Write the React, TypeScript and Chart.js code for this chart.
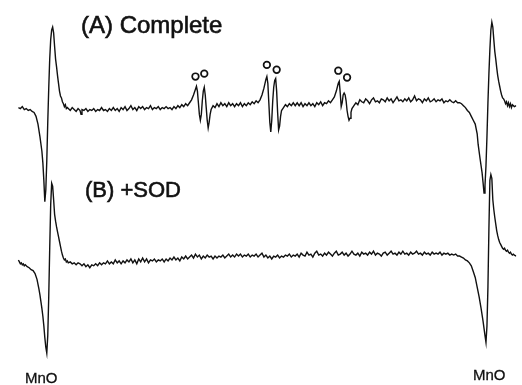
import React, { useEffect, useRef } from "react";
import { Chart, registerables } from "chart.js";

Chart.register(...registerables);

// EPR spectra: [field (a.u.), intensity (a.u.)]
const traceA: [number, number][] = [
  [13,0],[15,-1],[17,1],[19,-2],[21,-1],[23,-3],[25,-2],[27,-4],[29,-5],[31,-9],[33,-17],[35,-30],[37,-45],[38,-57],[39,-75],[40,-97],[41,-85],[42,-55],[43,-15],[44,20],[45,50],[46,70],[47,80],[48,83],[49,77],[50,63],[51,50],[52,42],[53,33],[54,25],[55,17],[56,12],[57,10],[58,6],[59,4],[60,1],[61,3],[62,-1],[63,0],[64,-1],[66,-3],[68,0],[70,-2],[72,-4],[74,-1],[76,-3],[77,-7],[78,-2],[80,-3],[82,-1],[84,-4],[86,-2],[88,-3],[90,-1],[92,-4],[94,-2],[96,-3],[98,0],[100,-3],[102,-2],[104,-4],[106,-1],[108,-3],[110,0],[112,-3],[114,-1],[116,-4],[118,0],[120,-2],[122,1],[124,-3],[126,-1],[128,2],[130,-2],[132,0],[134,-3],[136,1],[138,-1],[140,1],[142,-2],[144,0],[146,-1],[148,2],[150,-2],[152,0],[154,-1],[156,1],[158,-2],[160,0],[162,-1],[164,1],[166,-1],[168,0],[170,-2],[172,1],[174,-1],[176,2],[178,0],[180,3],[182,1],[184,4],[186,2],[188,5],[190,8],[192,13],[194,19],[195,22],[196,17],[197,5],[198,-7],[199,-13],[200,-7],[201,7],[202,17],[203,21],[204,13],[205,0],[206,-13],[207,-21],[208,-15],[209,-7],[210,-2],[212,2],[214,0],[216,4],[218,1],[220,5],[222,2],[224,4],[226,1],[228,5],[230,2],[232,4],[234,1],[236,4],[238,2],[240,5],[242,1],[244,4],[246,2],[248,5],[250,3],[252,6],[254,4],[256,7],[258,5],[260,8],[262,13],[264,20],[266,29],[267,32],[268,25],[269,5],[270,-15],[271,-25],[272,-13],[273,7],[274,21],[275,28],[276,30],[277,17],[278,-5],[279,-23],[280,-19],[281,-9],[282,-3],[284,0],[286,3],[288,1],[290,4],[292,2],[294,5],[296,2],[298,5],[300,2],[302,5],[304,1],[306,4],[308,2],[310,5],[312,2],[314,4],[316,1],[318,5],[320,3],[322,6],[324,2],[326,5],[328,4],[330,7],[332,5],[334,8],[336,11],[338,17],[340,25],[341,27],[342,15],[343,1],[344,5],[345,13],[346,15],[347,13],[348,7],[349,-3],[350,-9],[351,-13],[352,-11],[353,-5],[354,-1],[356,2],[358,5],[360,3],[362,8],[364,6],[366,5],[368,9],[370,7],[372,4],[374,8],[376,10],[378,6],[380,7],[382,5],[384,9],[386,8],[388,6],[390,10],[392,7],[394,9],[396,5],[398,8],[400,11],[402,7],[404,8],[406,6],[408,9],[410,7],[412,10],[414,6],[416,8],[418,12],[420,7],[422,9],[424,8],[426,5],[428,9],[430,7],[432,10],[434,6],[436,7],[438,9],[440,6],[442,8],[444,7],[446,9],[448,5],[450,7],[452,6],[454,8],[456,6],[458,5],[460,7],[462,5],[464,5],[466,4],[468,2],[470,0],[472,-3],[474,-5],[476,-9],[478,-13],[480,-17],[482,-27],[483,-38],[485,-53],[487,-67],[488,-77],[489,-88],[490,-80],[491,-60],[492,-30],[493,5],[494,35],[495,60],[496,80],[497,88],[498,83],[499,70],[500,58],[501,50],[502,41],[503,33],[504,27],[505,22],[506,17],[507,13],[508,10],[509,9],[510,7],[511,4],[512,6],[513,2],[514,5],[515,1],[516,4],[517,0],[518,3],[520,1],[522,2]
];

const traceB: [number, number][] = [
  [13,0],[14,-2],[15,-4],[16,-3],[17,-5],[18,-4],[19,-6],[20,-5],[22,-7],[24,-8],[26,-10],[28,-11],[30,-14],[32,-20],[34,-30],[35,-36],[36,-43],[37,-50],[38,-58],[39,-68],[40,-80],[41,-90],[42,-96],[43,-78],[44,-38],[45,12],[46,57],[47,79],[48,76],[49,62],[50,47],[51,40],[52,34],[53,29],[54,24],[55,19],[56,14],[57,9],[58,5],[59,2],[60,0],[61,1],[62,-2],[63,-1],[64,-3],[66,-2],[68,-4],[70,-3],[72,-5],[74,-3],[76,-4],[78,-6],[80,-4],[82,-7],[84,-5],[86,-8],[88,-5],[90,-6],[92,-4],[94,-6],[96,-3],[98,-5],[100,-3],[102,-4],[104,-1],[106,-4],[108,-2],[110,-4],[112,0],[114,-3],[116,-1],[118,-4],[120,-1],[122,-3],[124,0],[126,-2],[128,1],[130,-3],[132,0],[134,-4],[136,1],[138,-2],[140,2],[142,-2],[144,1],[146,-3],[148,0],[150,-1],[152,1],[154,-2],[156,0],[158,-1],[160,1],[162,-2],[164,1],[166,-1],[168,2],[170,0],[172,3],[174,0],[176,2],[178,-1],[180,3],[182,1],[184,4],[186,1],[188,3],[190,5],[192,2],[194,6],[196,3],[198,5],[200,1],[202,4],[204,2],[206,5],[208,3],[210,4],[212,1],[214,4],[216,2],[218,4],[220,3],[222,5],[224,2],[226,4],[228,6],[230,3],[232,5],[234,3],[236,6],[238,4],[240,6],[242,3],[244,5],[246,4],[248,6],[250,3],[252,5],[254,4],[256,6],[258,3],[260,5],[262,7],[264,3],[266,5],[268,2],[270,4],[272,1],[274,4],[276,3],[278,5],[280,2],[282,4],[284,3],[286,5],[288,4],[290,6],[292,3],[294,5],[296,4],[298,6],[300,3],[302,7],[304,5],[306,4],[308,8],[310,5],[312,6],[314,3],[316,7],[318,9],[320,5],[322,6],[324,4],[326,7],[328,5],[330,8],[332,6],[334,4],[336,7],[338,9],[340,5],[342,6],[344,8],[346,5],[348,7],[350,4],[352,6],[354,9],[356,6],[358,5],[360,7],[362,4],[364,8],[366,6],[368,7],[370,5],[372,8],[374,6],[376,9],[378,5],[380,7],[382,6],[384,4],[386,7],[388,8],[390,5],[392,7],[394,9],[396,6],[398,7],[400,5],[402,8],[404,6],[406,9],[408,6],[410,7],[412,5],[414,8],[416,6],[418,7],[420,9],[422,6],[424,7],[426,5],[428,8],[430,6],[432,7],[434,5],[436,8],[438,6],[440,7],[442,6],[444,8],[446,5],[448,7],[450,6],[452,7],[454,5],[456,6],[458,5],[460,6],[462,4],[464,4],[466,3],[468,2],[470,0],[472,-1],[474,-3],[476,-6],[478,-12],[480,-18],[482,-28],[484,-38],[486,-50],[488,-63],[490,-78],[491,-85],[492,-68],[493,-28],[494,32],[495,82],[496,88],[497,84],[498,62],[499,52],[500,44],[501,37],[502,30],[503,25],[504,21],[505,18],[506,16],[507,14],[508,12],[509,11],[510,12],[511,10],[512,9],[513,10],[514,8],[515,7],[516,8],[517,6],[518,5],[519,6],[520,5],[522,4]
];

// superoxide-adduct line markers ("o") above trace A
const adductMarks: [number, number][] = [
  [194, 32], [203, 35], [267, 44], [277, 39], [340, 38], [349, 31]
];

const labels = {
  a: "(A) Complete",
  b: "(B) +SOD",
  mn: "MnO",
};

const OFFSET_A = 80;
const OFFSET_B = -77;

const textPlugin = {
  id: "eprText",
  afterDraw(chart: any) {
    const ctx = chart.ctx;
    ctx.save();
    ctx.fillStyle = "#111";
    ctx.strokeStyle = "#111";
    ctx.lineWidth = 0.6;
    ctx.textBaseline = "alphabetic";
    ctx.textAlign = "left";
    const put = (t: string, x: number, y: number, font: string) => {
      ctx.font = font;
      ctx.fillText(t, x, y);
      ctx.strokeText(t, x, y);
    };
    put(labels.a, 81, 33, "24px 'Liberation Sans', Arial, sans-serif");
    put(labels.b, 85, 197, "22px 'Liberation Sans', Arial, sans-serif");
    ctx.lineWidth = 0.3;
    put(labels.mn, 25, 383, "15px 'Liberation Sans', Arial, sans-serif");
    put(labels.mn, 473, 380, "15px 'Liberation Sans', Arial, sans-serif");
    ctx.restore();
  },
};

export default function App() {
  const ref = useRef<HTMLCanvasElement | null>(null);
  useEffect(() => {
    if (!ref.current) return;
    const line = (d: [number, number][], off: number) =>
      d.map(([x, y]) => ({ x, y: y + off }));
    const chart = new Chart(ref.current, {
      type: "line",
      data: {
        datasets: [
          {
            data: line(traceA, OFFSET_A),
            borderColor: "#111",
            borderWidth: 1.4,
            pointRadius: 0,
            tension: 0,
            fill: false,
          },
          {
            data: line(traceB, OFFSET_B),
            borderColor: "#111",
            borderWidth: 1.4,
            pointRadius: 0,
            tension: 0,
            fill: false,
          },
          {
            data: line(adductMarks, OFFSET_A),
            showLine: false,
            pointRadius: 3.3,
            pointStyle: "circle",
            pointBorderWidth: 1.7,
            pointBorderColor: "#111",
            pointBackgroundColor: "#fff",
          },
        ],
      },
      options: {
        animation: false,
        responsive: false,
        devicePixelRatio: 1,
        layout: { padding: 0 },
        scales: {
          x: { type: "linear", min: 0, max: 522, display: false },
          y: { type: "linear", min: -200, max: 185, display: false },
        },
        plugins: {
          legend: { display: false },
          tooltip: { enabled: false },
        },
      },
      plugins: [textPlugin],
    });
    return () => chart.destroy();
  }, []);
  return (
    <div style={{ position: "fixed", left: 0, top: 0, width: 522, height: 385, background: "#fff" }}>
      <canvas ref={ref} width={522} height={385} />
    </div>
  );
}
